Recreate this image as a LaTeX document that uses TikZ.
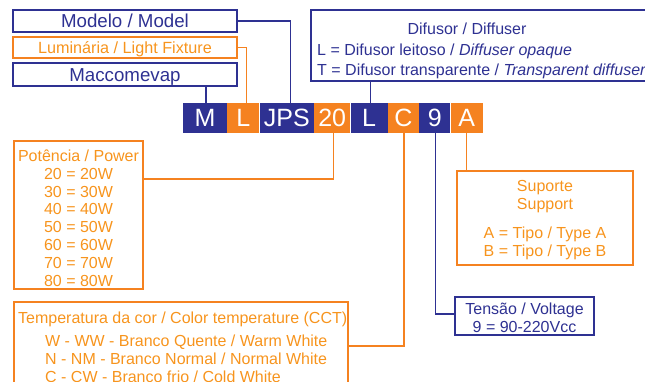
\documentclass[tikz,border=0pt]{standalone}
\usepackage{fontspec}
\setmainfont{Liberation Sans}
\definecolor{navy}{HTML}{2E3192}
\definecolor{orng}{HTML}{F58220}
\definecolor{orngt}{HTML}{F7941D}
\tikzset{
  nbox/.style={draw=navy, line width=1.2pt, text=navy, inner sep=0pt},
  obox/.style={draw=orng, line width=1.2pt, text=orngt, inner sep=0pt},
  big/.style={font=\fontsize{18.7}{20}\selectfont, text height=13.4pt, text depth=0pt},
  code/.style={text=white, inner sep=0pt, minimum height=30pt, font=\fontsize{25}{26}\selectfont, text height=17.9pt, text depth=0pt},
  cnavy/.style={code, fill=navy},
  corng/.style={code, fill=orng},
  ntxt/.style={text=navy, inner sep=0pt, font=\fontsize{16}{17}\selectfont},
  otxt/.style={text=orngt, inner sep=0pt, font=\fontsize{16}{17}\selectfont},
  nline/.style={draw=navy, line width=1.3pt},
  oline/.style={draw=orng, line width=1.3pt}
}
\begin{document}
\begin{tikzpicture}[x=1pt,y=-1pt]
\useasboundingbox (0,0) rectangle (645,382);
% left boxes
\node[nbox, big, minimum width=224pt, minimum height=22pt] (modelo) at (125,21) {Modelo / Model};
\node[obox, minimum width=224pt, minimum height=21pt, font=\fontsize{16.2}{17}\selectfont, text height=11.6pt, text depth=0pt] (lum) at (125,47.5) {Luminária / Light Fixture};
\node[nbox, big, minimum width=224pt, minimum height=23pt] (macco) at (125,74.5) {Maccomevap};
% code bar
\node[cnavy, minimum width=44pt] (cM) at (205,118) {M};
\node[corng, minimum width=32pt, anchor=west] (cL) at (cM.east) {L};
\node[cnavy, minimum width=54pt, anchor=west] (cJPS) at (cL.east) {JPS};
\node[corng, minimum width=36pt, anchor=west] (c20) at (cJPS.east) {20};
\node[cnavy, minimum width=37pt, anchor=west] (cL2) at (c20.east) {L};
\node[corng, minimum width=31pt, anchor=west] (cC) at (cL2.east) {C};
\node[cnavy, minimum width=31pt, anchor=west] (c9) at (cC.east) {9};
\node[corng, minimum width=32pt, anchor=west] (cA) at (c9.east) {A};
% diffuser
\node[nbox, minimum width=389pt, minimum height=71pt] (dif) at (505.5,45.5) {};
\node[ntxt, anchor=base] (dif1) at (467,34.3) {Difusor / Diffuser};
\node[ntxt, anchor=base west] (dif2) at (317,56) {L = Difusor leitoso / \textit{Diffuser opaque}};
\node[ntxt, anchor=base west] (dif3) at (317,76) {T = Difusor transparente / \textit{Transparent diffuser}};
% power
\node[obox, minimum width=129pt, minimum height=148pt] (power) at (78.5,215) {};
\node[otxt, anchor=base] (pw0) at (78.5,161.7) {Potência / Power};
\node[otxt, anchor=base] (pw1) at (78.5,179.3) {20 = 20W};
\node[otxt, anchor=base] (pw2) at (78.5,197.1) {30 = 30W};
\node[otxt, anchor=base] (pw3) at (78.5,214.9) {40 = 40W};
\node[otxt, anchor=base] (pw4) at (78.5,232.7) {50 = 50W};
\node[otxt, anchor=base] (pw5) at (78.5,250.5) {60 = 60W};
\node[otxt, anchor=base] (pw6) at (78.5,268.3) {70 = 70W};
\node[otxt, anchor=base] (pw7) at (78.5,286.1) {80 = 80W};
% temperature
\node[obox, minimum width=334pt, minimum height=118pt] (temp) at (181,361) {};
\node[otxt, anchor=base west] (t0) at (18,323.3) {Temperatura da cor / Color temperature (CCT)};
\node[otxt, anchor=base west] (t1) at (45,346) {W - WW - Branco Quente / Warm White};
\node[otxt, anchor=base west] (t2) at (45,364) {N - NM - Branco Normal / Normal White};
\node[otxt, anchor=base west] (t3) at (45,382) {C - CW - Branco frio / Cold White};
% support
\node[obox, minimum width=176pt, minimum height=94pt] (supp) at (545,218) {};
\node[otxt, anchor=base] (s0) at (545,192) {Suporte};
\node[otxt, anchor=base] (s1) at (545,210) {Support};
\node[otxt, anchor=base] (s2) at (545,238.3) {A = Tipo / Type A};
\node[otxt, anchor=base] (s3) at (545,256.7) {B = Tipo / Type B};
% voltage
\node[nbox, minimum width=139pt, minimum height=38pt] (volt) at (524.5,316) {};
\node[ntxt, anchor=base] (v0) at (524.5,314) {Tensão / Voltage};
\node[ntxt, anchor=base] (v1) at (524.5,332.3) {9 = 90-220Vcc};
% connectors
\draw[nline] ([xshift=1pt]cM.north) -- ([xshift=1pt]cM.north |- macco.south);
\draw[oline] (lum.east) -| ([xshift=3pt]cL.north);
\draw[nline] (modelo.east) -| ([xshift=4pt]cJPS.north);
\draw[nline] ([xshift=1.5pt]cL2.north) -- ([xshift=1.5pt]cL2.north |- dif.south);
\draw[oline] ([xshift=1pt]c20.south) |- ([yshift=36pt]power.east);
\draw[oline] ([xshift=0.5pt]cC.south) |- ([yshift=15pt]temp.east);
\draw[nline] ([xshift=0.5pt]c9.south) |- ([yshift=2pt]volt.west);
\draw[oline] (cA.south) -- (cA.south |- supp.north);
\end{tikzpicture}
\end{document}
